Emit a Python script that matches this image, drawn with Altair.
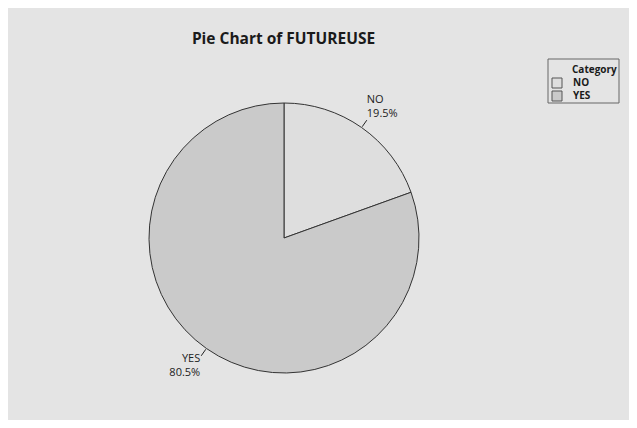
import altair as alt
import pandas as pd

categories = ["NO", "YES"]
percents = [19.5, 80.5]
fills = ["#dedede", "#cacaca"]
order = [1, 2]
legend_title = "Category"
chart_title = "Pie Chart of FUTUREUSE"

df = pd.DataFrame({"cat": categories, "pct": percents, "ord": order})

BG = "#e4e4e4"
FONT = "Open Sans"
INK = "#1a1a1a"
CX, CY, R = 276, 230, 135
R1, R2 = 136, 144

# legend layout (chart pixels)
LX0, LX1, LY0, LY1 = 540, 611, 51, 95
SW_X, SW_Y0, SW_STEP = 549, 75, 13

base = alt.Chart(df)
color_scale = alt.Scale(domain=categories, range=fills)

pie = base.mark_arc(outerRadius=R, stroke="#333333", strokeWidth=1).encode(
    theta=alt.Theta("pct:Q", stack=True),
    order=alt.Order("ord:Q"),
    color=alt.Color("cat:N", scale=color_scale, legend=None),
    x=alt.value(CX),
    y=alt.value(CY),
)

calc = (
    base.transform_window(cum="sum(pct)", sort=[alt.SortField("ord")])
    .transform_calculate(mid="(datum.cum - datum.pct/2)/100*2*PI")
    .transform_calculate(s="sin(datum.mid)", c="cos(datum.mid)")
    .transform_calculate(
        x1=f"{CX} + {R1}*datum.s",
        y1=f"{CY} - {R1}*datum.c",
        x2=f"{CX} + {R2}*datum.s",
        y2=f"{CY} - {R2}*datum.c",
        ptxt="format(datum.pct, '.1f') + '%'",
    )
)

leaders = calc.mark_rule(color="#222222", strokeWidth=1).encode(
    x=alt.X("x1:Q", scale=None),
    y=alt.Y("y1:Q", scale=None),
    x2="x2:Q",
    y2="y2:Q",
)

def label(side_filter, field, align, dx, dy):
    return calc.transform_filter(side_filter).mark_text(
        align=align, baseline="alphabetic", fontSize=11, font=FONT,
        color="#222222", dx=dx, dy=dy,
    ).encode(
        x=alt.X("x2:Q", scale=None),
        y=alt.Y("y2:Q", scale=None),
        text=f"{field}:N",
    )

r_cat = label("datum.s >= 0", "cat", "left", 0, -17)
r_pct = label("datum.s >= 0", "ptxt", "left", 0, -3)
l_cat = label("datum.s < 0", "cat", "right", -1, 6)
l_pct = label("datum.s < 0", "ptxt", "right", -1, 20)

title = alt.Chart(pd.DataFrame({"t": [chart_title]})).mark_text(
    fontSize=15.5, fontWeight="bold", font=FONT, color=INK, baseline="alphabetic"
).encode(x=alt.value(275.5), y=alt.value(36), text="t:N")

# legend
leg_box = alt.Chart(pd.DataFrame({"k": [0]})).mark_rect(
    fill=BG, stroke="#666666", strokeWidth=1
).encode(x=alt.value(LX0), x2=alt.value(LX1), y=alt.value(LY0), y2=alt.value(LY1))

leg_title = alt.Chart(pd.DataFrame({"t": [legend_title]})).mark_text(
    fontSize=10, fontWeight="bold", font=FONT, color=INK, align="left", baseline="alphabetic"
).encode(x=alt.value(564), y=alt.value(65), text="t:N")

leg_rows = base.transform_calculate(ly=f"{SW_Y0} + {SW_STEP}*(datum.ord - 1)")

leg_sw = leg_rows.mark_square(size=100, stroke="#555555", strokeWidth=1, opacity=1).encode(
    x=alt.value(SW_X),
    y=alt.Y("ly:Q", scale=None),
    fill=alt.Fill("cat:N", scale=color_scale, legend=None),
)

leg_lab = leg_rows.mark_text(
    fontSize=10, fontWeight="bold", font=FONT, color=INK, align="left", baseline="middle"
).encode(x=alt.value(565), y=alt.Y("ly:Q", scale=None), text="cat:N")

chart = (
    alt.layer(pie, leaders, r_cat, r_pct, l_cat, l_pct, title,
              leg_box, leg_title, leg_sw, leg_lab)
    .properties(
        width=621,
        height=412,
        background=BG,
        padding=0,
        autosize=alt.AutoSizeParams(type="none"),
    )
    .configure_view(stroke=None, fill=BG)
)

chart.save("out.html", embed_options={"renderer": "svg", "actions": False})
